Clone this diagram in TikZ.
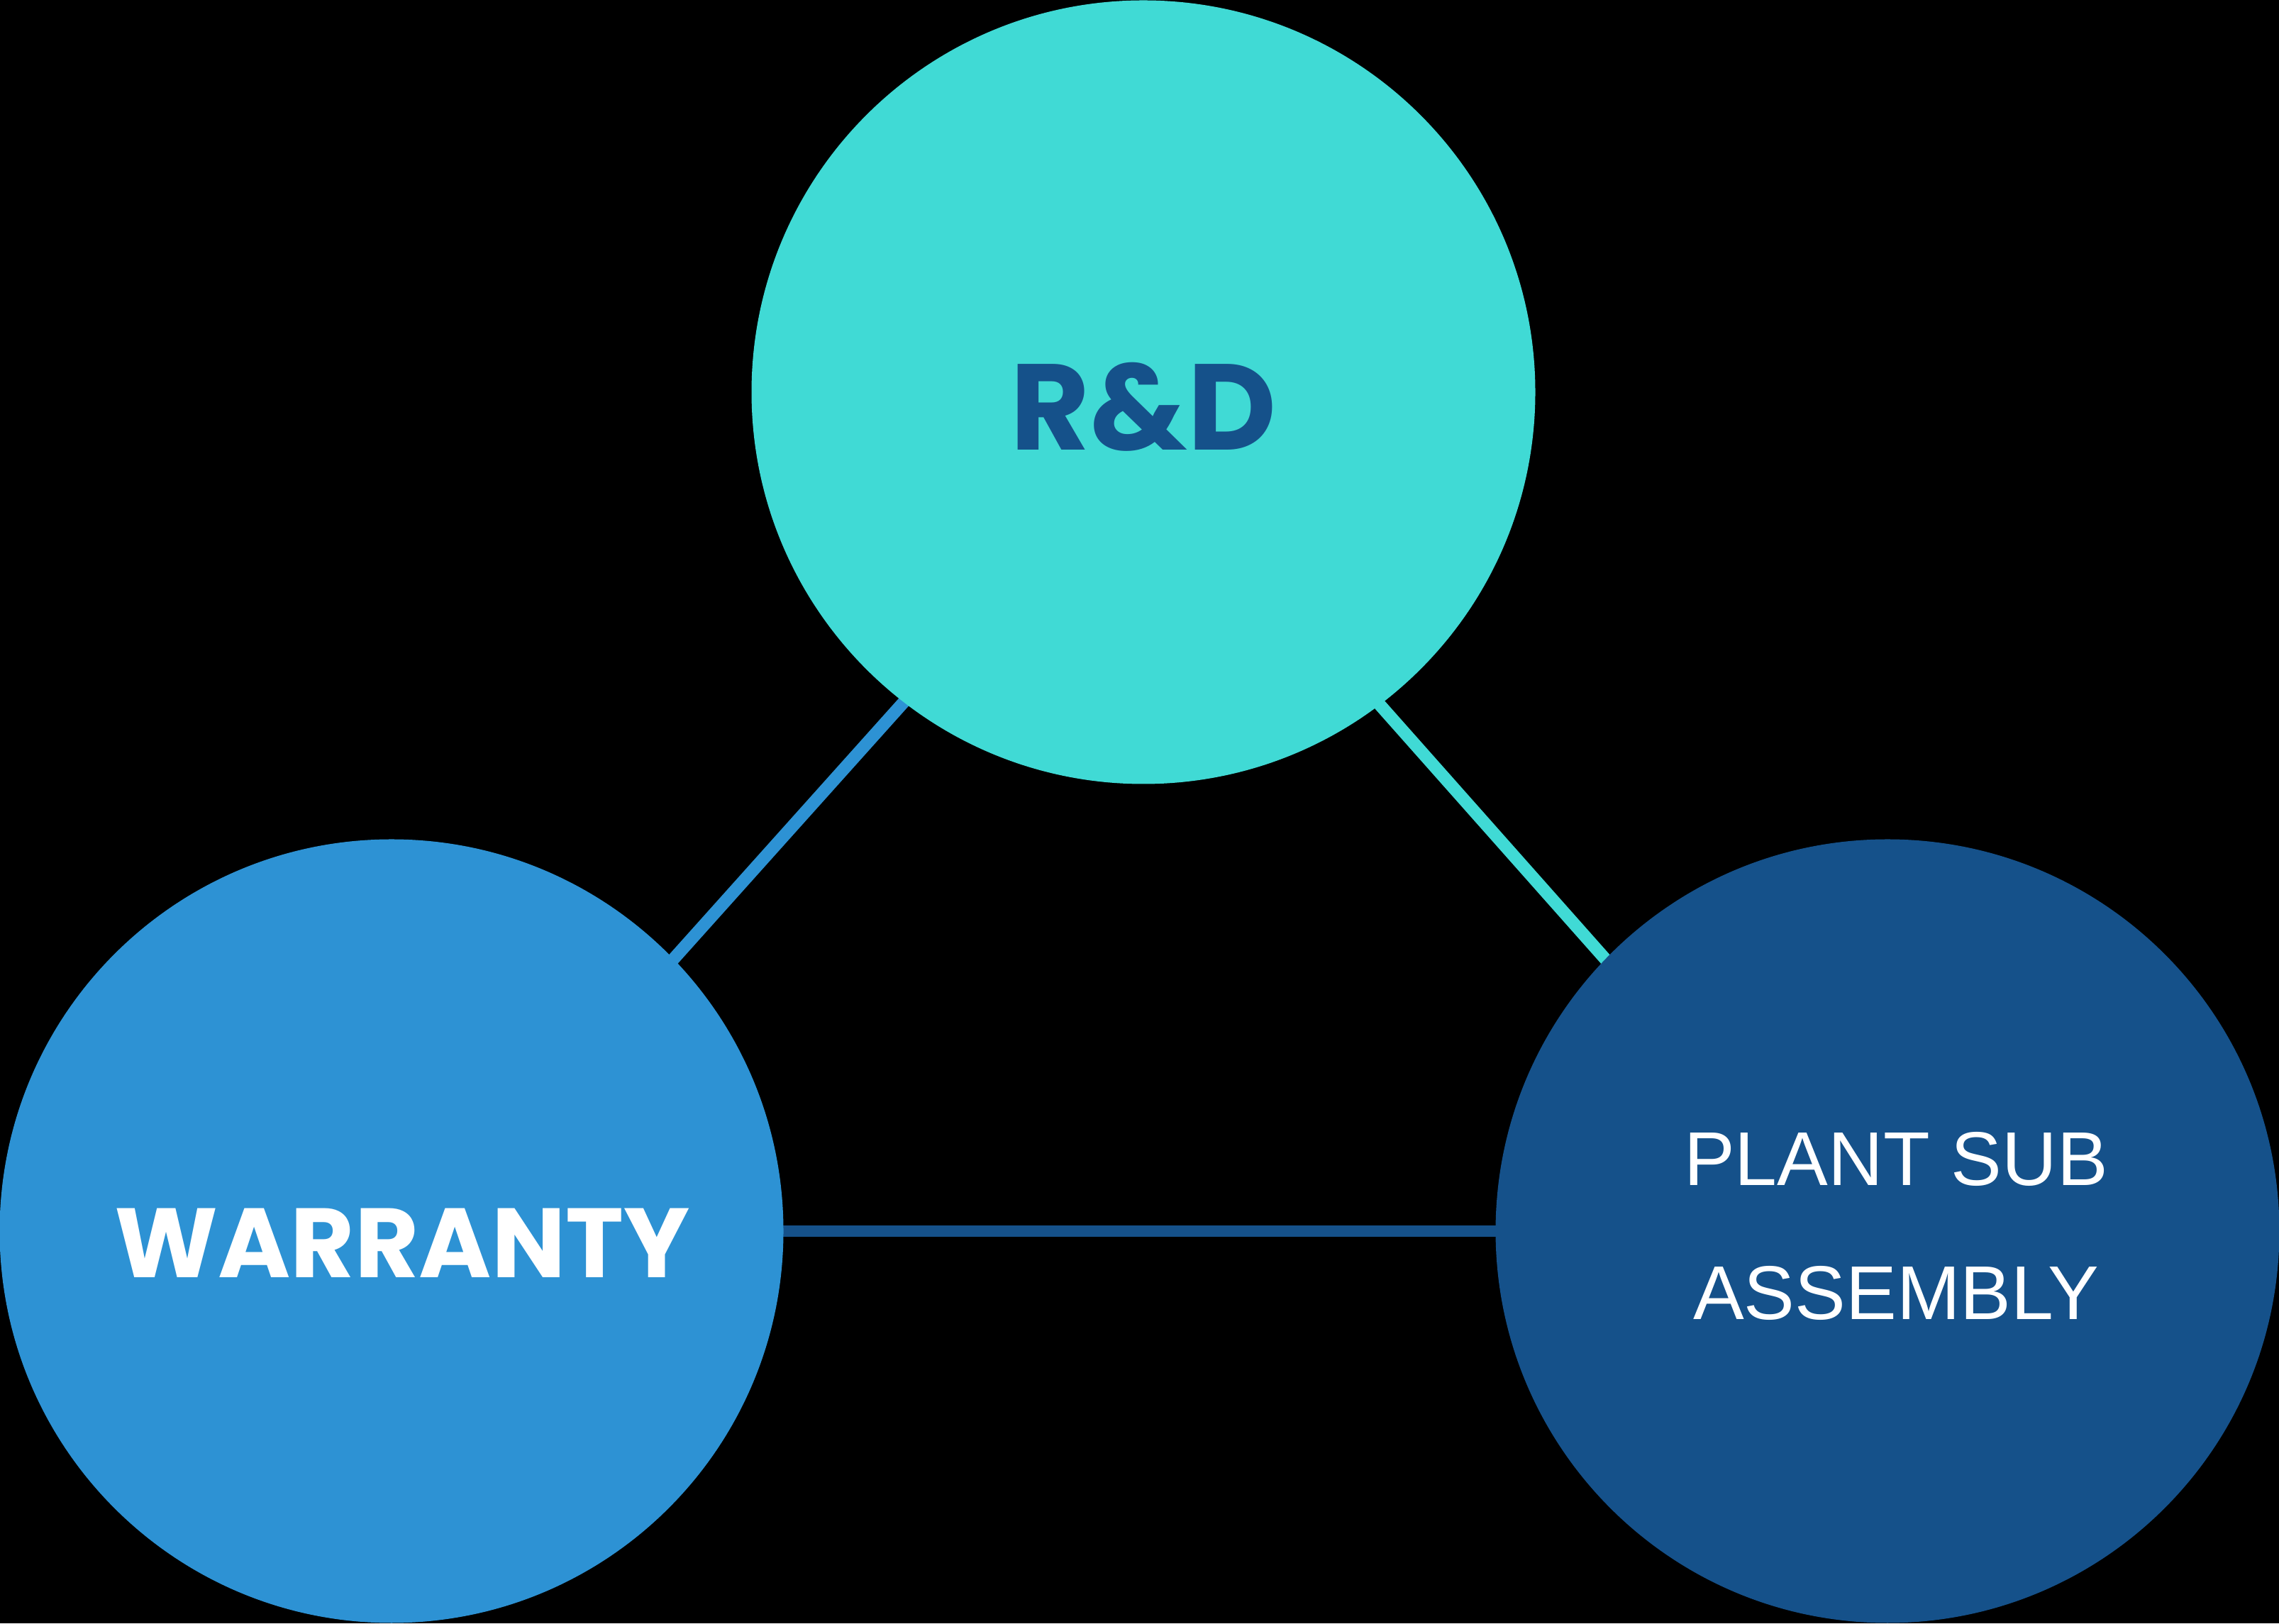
\documentclass[tikz,border=0pt]{standalone}
\usepackage{fontspec}
\setmainfont{Poppins}
\newfontfamily\arialfont{Liberation Sans}
\usetikzlibrary{backgrounds}
\definecolor{teal}{RGB}{64,218,213}
\definecolor{midblue}{RGB}{45,146,212}
\definecolor{navy}{RGB}{21,81,138}
\tikzstyle{circ}=[circle,minimum size=11.05cm,inner sep=0pt]
\tikzstyle{conn}=[line width=4.6pt]
\tikzstyle{lbl}=[inner sep=0pt,align=center]

\begin{document}
\begin{tikzpicture}
\useasboundingbox (0,0) rectangle (32.13,22.89);
\node[circ,fill=teal]    (rd)  at (16.12,17.36) {};
\node[circ,fill=midblue] (war) at (5.52,5.53)   {};
\node[circ,fill=navy]    (pla) at (26.61,5.53)  {};
\node[lbl,text=navy,font=\fontsize{49}{55}\selectfont\bfseries] (rdlbl) at ([yshift=-0.21cm]rd.center) {R\&D};
\node[lbl,text=white,font=\fontsize{39.5}{45}\selectfont\bfseries] (warlbl) at ([xshift=0.15cm,yshift=-0.17cm]war.center) {WARRANTY};
\node[lbl,text=white,font=\arialfont\fontsize{30.6}{53.8}\selectfont] (plalbl) at ([xshift=0.12cm,yshift=0.07cm]pla.center) {PLANT SUB\\ASSEMBLY};
\begin{scope}[on background layer]
\fill[black] (0,0) rectangle (32.13,22.89);
% diagonals sit a little below the centre lines
\draw[conn,midblue,line width=5pt] ([yshift=-0.6cm]rd.center) -- ([yshift=-0.6cm]war.center);
\draw[conn,teal,line width=5pt] ([yshift=-0.65cm]rd.center) -- ([yshift=-0.65cm]pla.center);
\draw[conn,navy] (war.center) -- (pla.center);
\end{scope}
\end{tikzpicture}
\end{document}
